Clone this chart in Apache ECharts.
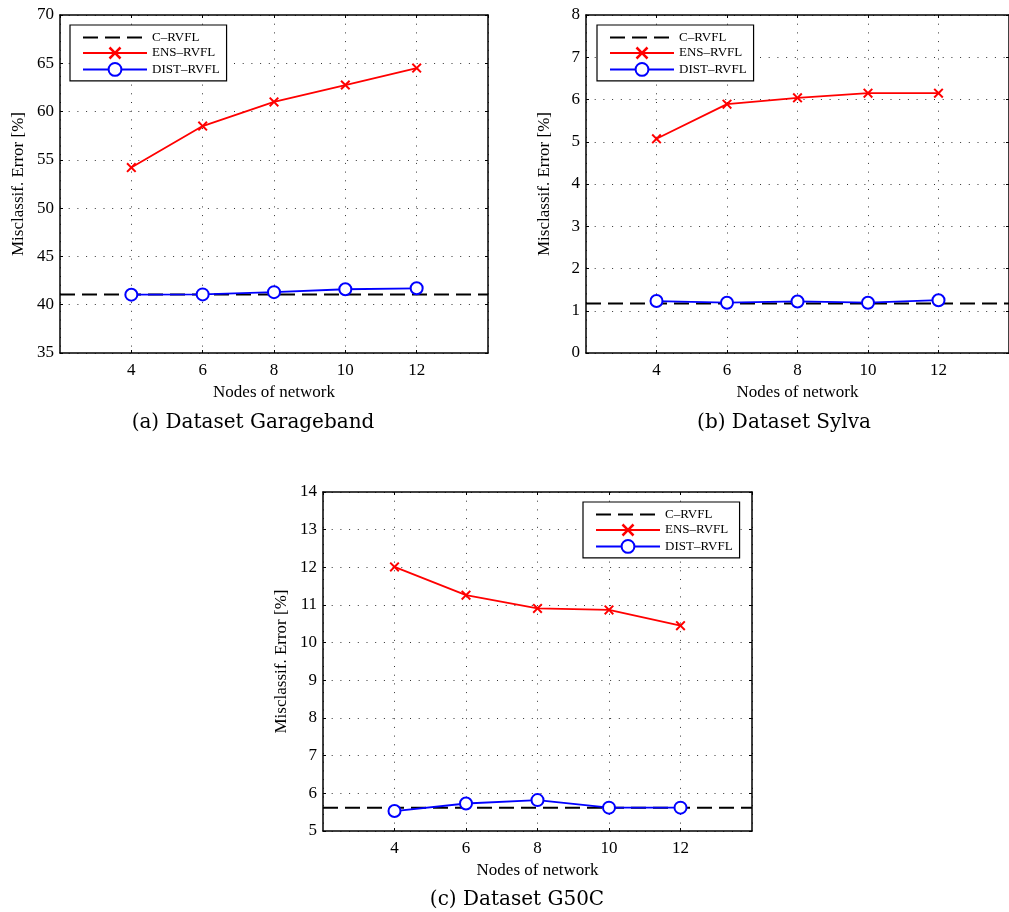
<!DOCTYPE html>
<html>
<head>
<meta charset="utf-8">
<script src="https://cdn.jsdelivr.net/npm/echarts@6/dist/echarts.min.js"></script>
<style>html,body{margin:0;padding:0;background:#fff}#c{width:1009px;height:912px}</style>
</head>
<body>
<div id="c"></div>
<script>
// ---- data ----
const nodes = [4, 6, 8, 10, 12];
const xRange = [2, 14];

const garagebandC = 41.05;
const garagebandEns = [54.2, 58.5, 61.0, 62.75, 64.5];
const garagebandDist = [41.04, 41.07, 41.3, 41.6, 41.7];

const sylvaC = 1.17;
const sylvaEns = [5.07, 5.89, 6.04, 6.15, 6.15];
const sylvaDist = [1.23, 1.19, 1.22, 1.19, 1.25];

const g50cC = 5.62;
const g50cEns = [12.01, 11.26, 10.91, 10.87, 10.45];
const g50cDist = [5.53, 5.73, 5.82, 5.62, 5.62];

const yRanges = [[35, 70, 5], [0, 8, 1], [5, 14, 1]];
const captions = ['(a) Dataset Garageband', '(b) Dataset Sylva', '(c) Dataset G50C'];
const seriesNames = ['C\u2013RVFL', 'ENS\u2013RVFL', 'DIST\u2013RVFL'];

// ---- layout ----
const serif = 'Liberation Serif';
const grids = [
  { left: 60, top: 15, width: 428, height: 338 },
  { left: 586, top: 15, width: 429, height: 338 },
  { left: 323, top: 492, width: 429, height: 339 }
];
const legendPos = [
  { left: 70, top: 25 },
  { left: 597, top: 25 },
  { left: 583, top: 502 }
];
const captionPos = [
  { x: 253, y: 413 },
  { x: 784, y: 413 },
  { x: 517, y: 890 }
];
const datasets = [
  [garagebandC, garagebandEns, garagebandDist],
  [sylvaC, sylvaEns, sylvaDist],
  [g50cC, g50cEns, g50cDist]
];

const crossPath = 'path://M0,1.4L1.4,0L5,3.6L8.6,0L10,1.4L6.4,5L10,8.6L8.6,10L5,6.4L1.4,10L0,8.6L3.6,5Z';

const xAxes = [], yAxes = [], series = [], legends = [], titles = [];
grids.forEach((g, i) => {
  const [ymin, ymax, yint] = yRanges[i];
  xAxes.push({
    type: 'value', gridIndex: i, min: xRange[0], max: xRange[1], interval: 2,
    name: 'Nodes of network', nameLocation: 'middle', nameGap: 31,
    nameTextStyle: { fontFamily: serif, fontSize: 17, color: '#000' },
    axisLine: { show: true, onZero: false, lineStyle: { color: '#000', width: 1.5 } },
    axisTick: { show: true, inside: true, length: 3, lineStyle: { color: '#000' } },
    axisLabel: { showMinLabel: false, showMaxLabel: false, fontFamily: serif, fontSize: 17, color: '#000', margin: 9 },
    splitLine: { show: true, lineStyle: { color: '#333', type: [1, 7.7], width: 1 } }
  });
  xAxes.push({
    type: 'value', gridIndex: i, min: xRange[0], max: xRange[1], interval: 2, position: 'top',
    axisLine: { show: true, onZero: false, lineStyle: { color: '#000', width: 1.5 } },
    axisTick: { show: true, inside: true, length: 3, lineStyle: { color: '#000' } },
    axisLabel: { show: false }, splitLine: { show: false }
  });
  yAxes.push({
    type: 'value', gridIndex: i, min: ymin, max: ymax, interval: yint,
    name: 'Misclassif. Error [%]', nameLocation: 'middle', nameGap: 33,
    nameTextStyle: { fontFamily: serif, fontSize: 17, color: '#000' },
    axisLine: { show: true, onZero: false, lineStyle: { color: '#000', width: 1.5 } },
    axisTick: { show: true, inside: true, length: 3, lineStyle: { color: '#000' } },
    axisLabel: { fontFamily: serif, fontSize: 17, color: '#000', margin: 6 },
    splitLine: { show: true, lineStyle: { color: '#333', type: [1, 7.7], width: 1 } }
  });
  yAxes.push({
    type: 'value', gridIndex: i, min: ymin, max: ymax, interval: yint, position: 'right',
    axisLine: { show: true, onZero: false, lineStyle: { color: '#000', width: 1.5 } },
    axisTick: { show: true, inside: true, length: 3, lineStyle: { color: '#000' } },
    axisLabel: { show: false }, splitLine: { show: false }
  });

  const [cVal, ens, dist] = datasets[i];
  const xi = i * 2, yi = i * 2;
  series.push({
    name: seriesNames[0], type: 'line', xAxisIndex: xi, yAxisIndex: yi,
    data: xRange.map(x => [x, cVal]), symbol: 'none', z: 2,
    lineStyle: { color: '#000', width: 2, type: [15, 7] },
    itemStyle: { color: '#000' }, silent: true
  });
  series.push({
    name: seriesNames[1], type: 'line', xAxisIndex: xi, yAxisIndex: yi,
    data: nodes.map((n, k) => [n, ens[k]]), symbol: crossPath, symbolSize: 10, z: 3,
    lineStyle: { color: '#ff0000', width: 1.8 },
    itemStyle: { color: '#ff0000' }
  });
  series.push({
    name: seriesNames[2], type: 'line', xAxisIndex: xi, yAxisIndex: yi,
    data: nodes.map((n, k) => [n, dist[k]]), symbol: 'emptyCircle', symbolSize: 12, z: 4,
    lineStyle: { color: '#0000ff', width: 1.8 },
    itemStyle: { color: '#0000ff', borderColor: '#0000ff', borderWidth: 2 }
  });

  legends.push({
    left: legendPos[i].left, top: legendPos[i].top, orient: 'vertical',
    data: [
      { name: seriesNames[0], itemStyle: { color: 'rgba(0,0,0,0)', borderWidth: 0, opacity: 0 } },
      { name: seriesNames[1] },
      { name: seriesNames[2] }
    ],
    itemWidth: 64, itemHeight: 16, itemGap: 2.5,
    padding: [6, 7, 4, 12], borderColor: '#000', borderWidth: 1.2, backgroundColor: '#fff',
    textStyle: { fontFamily: serif, fontSize: 13, color: '#000' },
    selectedMode: false, z: 10
  });

  titles.push({
    text: captions[i], left: captionPos[i].x, top: captionPos[i].y, textAlign: 'center',
    textStyle: { fontFamily: 'DejaVu Serif', fontSize: 20, fontWeight: 'normal', color: '#000' },
    padding: 0
  });
});

const chart = echarts.init(document.getElementById('c'), null, { renderer: 'canvas' });
chart.setOption({
  backgroundColor: '#fff',
  animation: false,
  title: titles,
  grid: grids.map(g => Object.assign({ containLabel: false }, g)),
  xAxis: xAxes,
  yAxis: yAxes,
  legend: legends,
  series: series
});
</script>
</body>
</html>
